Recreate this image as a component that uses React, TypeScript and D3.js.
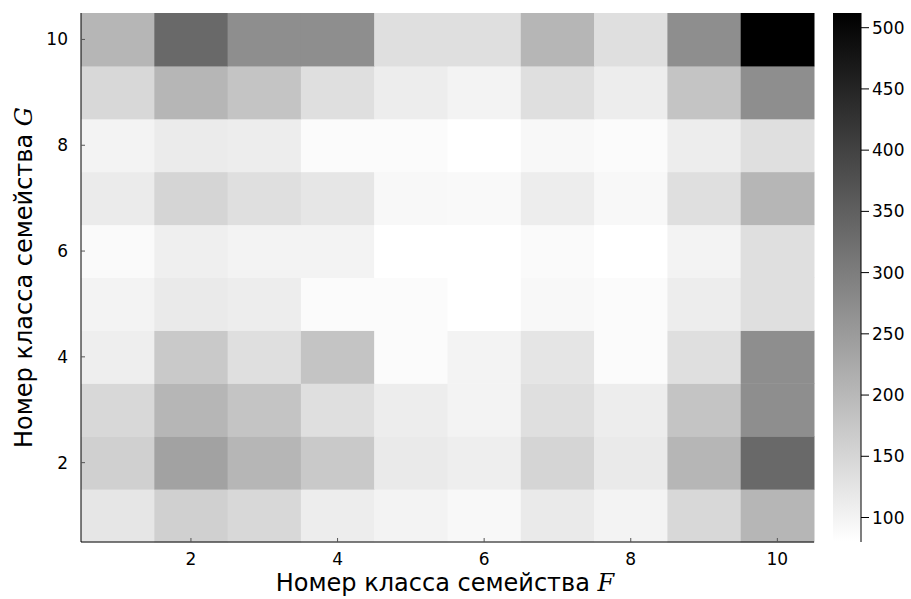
import React from "react";
import * as d3 from "d3";

// F classes along x, G classes along y
const classesF = [1, 2, 3, 4, 5, 6, 7, 8, 9, 10];
const classesG = [1, 2, 3, 4, 5, 6, 7, 8, 9, 10];
const xTicks = [2, 4, 6, 8, 10];
const yTicks = [2, 4, 6, 8, 10];
const colorTicks = [100, 150, 200, 250, 300, 350, 400, 450, 500];

// one row per G class (G = 1 .. 10), values for F = 1 .. 10
const g1 = [122, 160, 146, 110, 100, 92, 116, 100, 146, 204];
const g2 = [160, 238, 204, 171, 116, 109, 151, 116, 204, 334];
const g3 = [146, 204, 180, 134, 110, 100, 134, 110, 180, 271];
const g4 = [109, 171, 134, 180, 87, 100, 124, 87, 134, 271];
const g5 = [100, 116, 110, 87, 87, 80, 92, 87, 110, 134];
const g6 = [88, 107, 100, 100, 80, 80, 88, 80, 100, 134];
const g7 = [114, 151, 134, 122, 92, 90, 110, 92, 134, 204];
const g8 = [100, 114, 110, 87, 87, 80, 92, 87, 110, 134];
const g9 = [146, 204, 180, 134, 110, 100, 134, 110, 180, 271];
const g10 = [204, 334, 271, 271, 134, 134, 204, 134, 271, 512];
const rows = [g1, g2, g3, g4, g5, g6, g7, g8, g9, g10];

const W = 911;
const H = 599;
const M = { left: 81, right: 814, top: 13, bottom: 542 };
const CB = { x: 833, w: 28 };
const FONT = "'DejaVu Sans', sans-serif";

export default function App() {
  const x = d3.scaleBand<number>().domain(classesF).range([M.left, M.right]);
  const y = d3.scaleBand<number>().domain(classesG).range([M.bottom, M.top]);

  const allValues = rows.flat();
  const vmin = d3.min(allValues)!;
  const vmax = d3.max(allValues)!;
  const color = d3.scaleLinear<string>().domain([vmin, vmax]).range(["#ffffff", "#000000"]).interpolate(d3.interpolateRgb);
  const cbY = d3.scaleLinear().domain([vmin, vmax]).range([M.bottom, M.top]);

  const cells = rows.flatMap((row, gi) => row.map((v, fi) => ({ f: classesF[fi], g: classesG[gi], v })));

  return (
    <svg width={W} height={H} style={{ position: "absolute", left: 0, top: 0, background: "#fff" }} fontFamily={FONT}>
      <defs>
        <linearGradient id="cbgrad" x1="0" y1="1" x2="0" y2="0">
          <stop offset="0%" stopColor={color(vmin)} />
          <stop offset="100%" stopColor={color(vmax)} />
        </linearGradient>
      </defs>

      {cells.map((c) => (
        <rect
          key={`${c.f}-${c.g}`}
          x={x(c.f)!}
          y={y(c.g)!}
          width={x.bandwidth() + 0.5}
          height={y.bandwidth() + 0.5}
          fill={color(c.v)}
        />
      ))}

      {/* axes */}
      <line x1={M.left} x2={M.left} y1={M.top} y2={M.bottom} stroke="#000" strokeWidth={1} />
      <line x1={M.left} x2={M.right} y1={M.bottom} y2={M.bottom} stroke="#000" strokeWidth={1} />

      {xTicks.map((t) => {
        const cx = x(t)! + x.bandwidth() / 2;
        return (
          <g key={`xt${t}`}>
            <line x1={cx} x2={cx} y1={M.bottom} y2={M.bottom - 4} stroke="#555" strokeWidth={1} />
            <text x={cx} y={565} textAnchor="middle" fontSize={17} fill="#000">{t}</text>
          </g>
        );
      })}
      {yTicks.map((t) => {
        const cy = y(t)! + y.bandwidth() / 2;
        return (
          <g key={`yt${t}`}>
            <line x1={M.left} x2={M.left + 4} y1={cy} y2={cy} stroke="#555" strokeWidth={1} />
            <text x={68} y={cy + 6} textAnchor="end" fontSize={17} fill="#000">{t}</text>
          </g>
        );
      })}

      <text x={445} y={591} textAnchor="middle" fontSize={24} fill="#000">
        Номер класса семейства <tspan fontFamily="'DejaVu Serif', serif" fontStyle="italic">F</tspan>
      </text>
      <text transform={`translate(32,${(M.top + M.bottom) / 2}) rotate(-90)`} textAnchor="middle" fontSize={24} fill="#000">
        Номер класса семейства <tspan fontFamily="'DejaVu Serif', serif" fontStyle="italic">G</tspan>
      </text>

      {/* colorbar */}
      <rect x={CB.x} y={M.top} width={CB.w} height={M.bottom - M.top} fill="url(#cbgrad)" />
      <line x1={CB.x + CB.w} x2={CB.x + CB.w} y1={M.top} y2={M.bottom} stroke="#000" strokeWidth={1} />
      {colorTicks.map((t) => (
        <g key={`ct${t}`}>
          <line x1={CB.x + CB.w} x2={CB.x + CB.w + 8} y1={cbY(t)} y2={cbY(t)} stroke="#000" strokeWidth={1} />
          <text x={CB.x + CB.w + 11} y={cbY(t) + 6} fontSize={17} fill="#000">{t}</text>
        </g>
      ))}
    </svg>
  );
}
